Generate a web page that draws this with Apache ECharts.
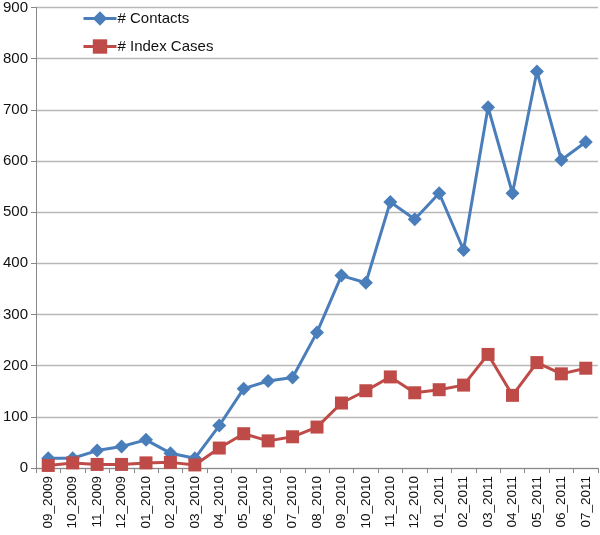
<!DOCTYPE html>
<html>
<head>
<meta charset="utf-8">
<script src="https://cdn.jsdelivr.net/npm/echarts@6/dist/echarts.min.js"></script>
<style>html,body{margin:0;padding:0;background:#fff}#c{width:600px;height:535px}</style>
</head>
<body>
<div id="c"></div>
<script>
var categories = ["09_2009","10_2009","11_2009","12_2009","01_2010","02_2010","03_2010","04_2010","05_2010","06_2010","07_2010","08_2010","09_2010","10_2010","11_2010","12_2010","01_2011","02_2011","03_2011","04_2011","05_2011","06_2011","07_2011"];
var contacts = [19,19,34,42,55,29,19,83,155,170,177,265,376,362,520,486,537,426,705,537,775,602,637];
var indexCases = [5,10,7,7,10,11,6,39,67,53,61,80,127,151,178,147,153,162,222,142,206,184,195];
var yTicks = {min:0, max:900, interval:100};

var chart = echarts.init(document.getElementById('c'));
var font = '"Liberation Sans", Arial, sans-serif';
chart.setOption({
  animation:false,
  backgroundColor:'#fff',
  grid:{left:36,right:2,top:7,bottom:67},
  legend:{
    orient:'vertical', left:77, top:6, itemGap:13, itemWidth:33, itemHeight:18,
    lineStyle:{width:3},
    textStyle:{fontFamily:font,fontSize:15,color:'#111',padding:[0,0,0,-4]},
    data:['# Contacts','# Index Cases']
  },
  xAxis:{
    type:'category', data:categories, boundaryGap:true,
    axisLine:{lineStyle:{color:'#888',width:1}},
    axisTick:{show:true,interval:0,length:5,lineStyle:{color:'#888'}},
    axisLabel:{rotate:90,interval:0,fontFamily:font,fontSize:13.5,color:'#111',margin:8}
  },
  yAxis:{
    type:'value', min:yTicks.min, max:yTicks.max, interval:yTicks.interval,
    axisLine:{show:true,lineStyle:{color:'#888',width:1}},
    axisTick:{show:true,length:5,lineStyle:{color:'#888'}},
    axisLabel:{fontFamily:font,fontSize:15,color:'#111',margin:8},
    splitLine:{lineStyle:{color:'#b8b8b8',width:1.3}}
  },
  series:[
    {name:'# Contacts',type:'line',data:contacts,symbol:'diamond',symbolSize:14,
     lineStyle:{color:'#4a7ebb',width:3},itemStyle:{color:'#4a7ebb'}},
    {name:'# Index Cases',type:'line',data:indexCases,symbol:'rect',symbolSize:13,
     lineStyle:{color:'#be4b48',width:3},itemStyle:{color:'#be4b48'}}
  ]
});
</script>
</body>
</html>
